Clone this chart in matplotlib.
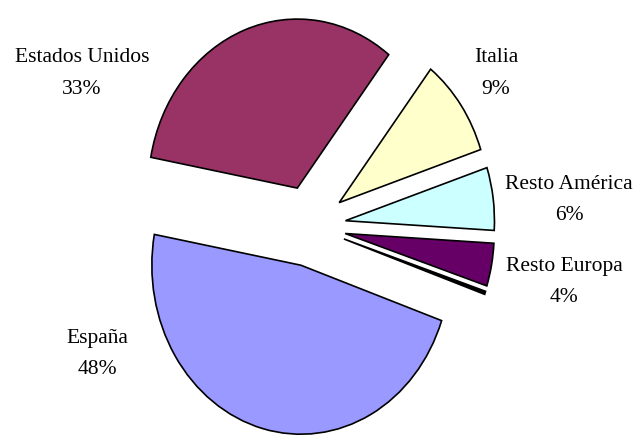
import matplotlib
matplotlib.use("Agg")
import matplotlib.pyplot as plt

# datos (orden de dibujo, en sentido horario desde la izquierda)
paises = ['Estados Unidos', 'Italia', 'Resto América', 'Resto Europa', 'Otros', 'España']
valores = [32.6, 9.4, 6.0, 4.1, 0.3, 47.6]
colores = ['#993366', '#FFFFCC', '#CCFFFF', '#660066', '#000000', '#9999FF']
mostrar = [True, True, True, True, False, True]

# posiciones de las etiquetas en pixeles (x, y desde arriba) -> nombre, porcentaje
pos_etiquetas = {
    'Estados Unidos': (82, 58),
    'Italia': (496, 58),
    'Resto América': (569, 184),
    'Resto Europa': (564, 266),
    'España': (97, 338),
}

W, H = 638, 436
fig = plt.figure(figsize=(W / 100, H / 100), dpi=100)
ax = fig.add_axes([0, 0, 1, 1])

ax.pie(valores, colors=colores, startangle=169.5, counterclock=False,
       explode=[0.24] * len(valores),
       wedgeprops=dict(edgecolor='black', linewidth=1.2))

# elipse: 149 px en horizontal, 169 px en vertical, centro en (310, 226)
cx, cy, rx, ry = 310, 226, 149, 169
ax.set_aspect('auto')
ax.set_xlim(-cx / rx, (W - cx) / rx)
ax.set_ylim(-(H - cy) / ry, cy / ry)
ax.axis('off')

total = sum(valores)
for nombre, v, ok in zip(paises, valores, mostrar):
    if not ok:
        continue
    x, y = pos_etiquetas[nombre]
    pct = f"{round(v / total * 100)}%"
    fig.text(x / W, 1 - y / H, nombre, ha='center', va='center',
             family='Liberation Serif', fontsize=15.5)
    fig.text(x / W, 1 - (y + 31) / H, pct, ha='center', va='center',
             family='Liberation Serif', fontsize=15.5)

fig.savefig('out.png', dpi=100, facecolor='white')
